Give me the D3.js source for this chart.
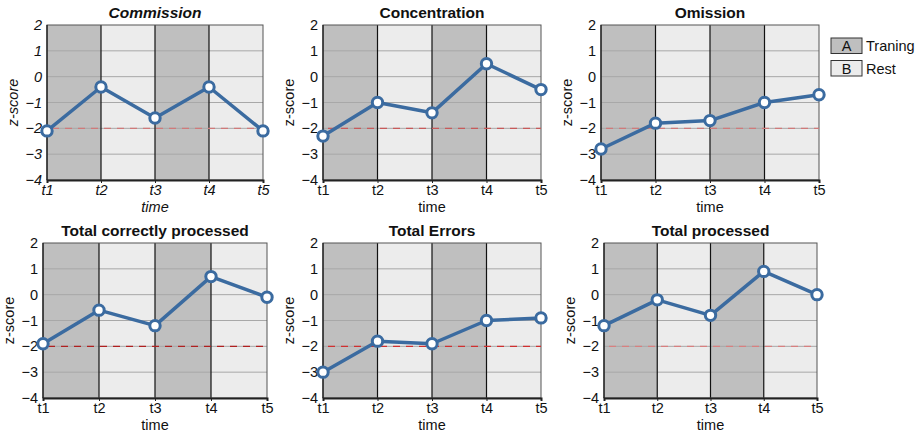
<!DOCTYPE html>
<html>
<head>
<meta charset="utf-8">
<script src="https://cdn.jsdelivr.net/npm/d3@7"></script>
<style>
  body { margin: 0; background: #fff; }
  svg text { font-family: "Liberation Sans", Arial, sans-serif; fill: #111; }
</style>
</head>
<body>
<svg id="chart" width="920" height="435"></svg>
<script>
var times = ["t1", "t2", "t3", "t4", "t5"];
var yTicks = [2, 1, 0, -1, -2, -3, -4];
var threshold = -2;

var titles = ["Commission", "Concentration", "Omission",
              "Total correctly processed", "Total Errors", "Total processed"];

var commission = [-2.1, -0.4, -1.6, -0.4, -2.1];
var concentration = [-2.3, -1.0, -1.4, 0.5, -0.5];
var omission = [-2.8, -1.8, -1.7, -1.0, -0.7];
var totalCorrect = [-1.9, -0.6, -1.2, 0.7, -0.1];
var totalErrors = [-3.0, -1.8, -1.9, -1.0, -0.9];
var totalProcessed = [-1.2, -0.2, -0.8, 0.9, 0.0];

var seriesList = [commission, concentration, omission, totalCorrect, totalErrors, totalProcessed];

// phases between consecutive time points
var phases = ["A", "B", "A", "B"];
var legendItems = [{key: "A", label: "Traning"}, {key: "B", label: "Rest"}];
var phaseColor = {A: "#bfbfbf", B: "#ececec"};

// panel layout (plot area boxes)
var panels = [
  {x0: 47, x1: 263, y0: 25, y1: 180, italic: true, dash: "#d07a7a"},
  {x0: 323, x1: 541, y0: 25, y1: 180, italic: false, dash: "#c85a5a"},
  {x0: 601, x1: 819, y0: 25, y1: 180, italic: false, dash: "#d07a7a"},
  {x0: 43, x1: 267, y0: 243, y1: 398, italic: false, dash: "#b02020"},
  {x0: 323, x1: 541, y0: 243, y1: 398, italic: false, dash: "#d03030"},
  {x0: 604, x1: 817, y0: 243, y1: 398, italic: false, dash: "#d88080"}
];

var svg = d3.select("#chart");
var lineColor = "#3b6ba0";

panels.forEach(function(p, i) {
  var data = seriesList[i];
  var fs = p.italic ? "italic" : "normal";

  var x = d3.scalePoint().domain(times).range([p.x0, p.x1]);
  var y = d3.scaleLinear().domain([-4, 2]).range([p.y1, p.y0]);

  var g = svg.append("g");

  // phase backgrounds
  g.selectAll("rect.phase")
    .data(phases)
    .enter().append("rect")
    .attr("x", function(d, j) { return x(times[j]); })
    .attr("y", p.y0)
    .attr("width", function(d, j) { return x(times[j + 1]) - x(times[j]); })
    .attr("height", p.y1 - p.y0)
    .attr("fill", function(d) { return phaseColor[d]; });

  // horizontal grid
  g.selectAll("line.grid")
    .data(yTicks.filter(function(t) { return t > -4 && t < 2; }))
    .enter().append("line")
    .attr("x1", p.x0).attr("x2", p.x1)
    .attr("y1", function(d) { return y(d); })
    .attr("y2", function(d) { return y(d); })
    .attr("stroke", "#a8a8a8")
    .attr("stroke-width", 1);

  // vertical separators
  g.selectAll("line.vsep")
    .data(times.slice(1, 4))
    .enter().append("line")
    .attr("x1", function(d) { return x(d); })
    .attr("x2", function(d) { return x(d); })
    .attr("y1", p.y0).attr("y2", p.y1)
    .attr("stroke", "#111")
    .attr("stroke-width", 1.2);

  // frame
  g.append("rect")
    .attr("x", p.x0).attr("y", p.y0)
    .attr("width", p.x1 - p.x0).attr("height", p.y1 - p.y0)
    .attr("fill", "none")
    .attr("stroke", "#555")
    .attr("stroke-width", 1);

  g.append("line")
    .attr("x1", p.x0).attr("x2", p.x0)
    .attr("y1", p.y0).attr("y2", p.y1)
    .attr("stroke", "#111").attr("stroke-width", 1.2);

  // x axis
  var xa = g.append("g")
    .attr("transform", "translate(0," + p.y1 + ")")
    .call(d3.axisBottom(x).tickSize(3).tickPadding(2));
  xa.select(".domain").attr("stroke", "#222").attr("stroke-width", 2);
  xa.selectAll(".tick line").attr("stroke", "#222");
  xa.selectAll("text")
    .style("font-size", "14.5px")
    .style("font-style", fs)
    .style("font-family", "Liberation Sans, Arial, sans-serif")
    .attr("fill", "#111");

  // y axis
  var ya = g.append("g")
    .attr("transform", "translate(" + p.x0 + ",0)")
    .call(d3.axisLeft(y).tickValues(yTicks).tickSize(0).tickPadding(5).tickFormat(d3.format("d")));
  ya.select(".domain").remove();
  ya.selectAll("text")
    .style("font-size", "14.5px")
    .style("font-style", fs)
    .style("font-family", "Liberation Sans, Arial, sans-serif")
    .attr("fill", "#111");

  // threshold dashed line
  g.append("line")
    .attr("x1", x(times[0])).attr("x2", x(times[4]))
    .attr("y1", y(threshold)).attr("y2", y(threshold))
    .attr("stroke", p.dash)
    .attr("stroke-width", 1.3)
    .attr("stroke-dasharray", "7,6")
    .attr("stroke-dashoffset", -5);

  // series line
  var line = d3.line()
    .x(function(d, j) { return x(times[j]); })
    .y(function(d) { return y(d); });

  g.append("path")
    .datum(data)
    .attr("fill", "none")
    .attr("stroke", lineColor)
    .attr("stroke-width", 3.5)
    .attr("stroke-linejoin", "round")
    .attr("d", line);

  g.selectAll("circle")
    .data(data)
    .enter().append("circle")
    .attr("cx", function(d, j) { return x(times[j]); })
    .attr("cy", function(d) { return y(d); })
    .attr("r", 5.2)
    .attr("fill", "#fff")
    .attr("stroke", lineColor)
    .attr("stroke-width", 3);

  // title
  g.append("text")
    .attr("x", (p.x0 + p.x1) / 2)
    .attr("y", p.y0 - 7)
    .attr("text-anchor", "middle")
    .style("font-size", "15.5px")
    .style("font-weight", "bold")
    .style("font-style", fs)
    .text(titles[i]);

  // axis titles
  g.append("text")
    .attr("x", (p.x0 + p.x1) / 2)
    .attr("y", p.y1 + 32)
    .attr("text-anchor", "middle")
    .style("font-size", "14.5px")
    .style("font-style", fs)
    .text("time");

  g.append("text")
    .attr("transform", "translate(" + (p.x0 - 29) + "," + ((p.y0 + p.y1) / 2) + ") rotate(-90)")
    .attr("text-anchor", "middle")
    .style("font-size", "14.5px")
    .style("font-style", fs)
    .text("z-score");
});

// legend
var legend = svg.append("g").attr("transform", "translate(831,38)");
var items = legend.selectAll("g.item")
  .data(legendItems)
  .enter().append("g")
  .attr("transform", function(d, j) { return "translate(0," + (j * 22.5) + ")"; });

items.append("rect")
  .attr("width", 31).attr("height", 15.5)
  .attr("fill", function(d) { return phaseColor[d.key]; })
  .attr("stroke", "#333").attr("stroke-width", 1);

items.append("text")
  .attr("x", 15.5).attr("y", 13)
  .attr("text-anchor", "middle")
  .style("font-size", "14.5px")
  .text(function(d) { return d.key; });

items.append("text")
  .attr("x", 35).attr("y", 13)
  .style("font-size", "14.5px")
  .text(function(d) { return d.label; });
</script>
</body>
</html>
